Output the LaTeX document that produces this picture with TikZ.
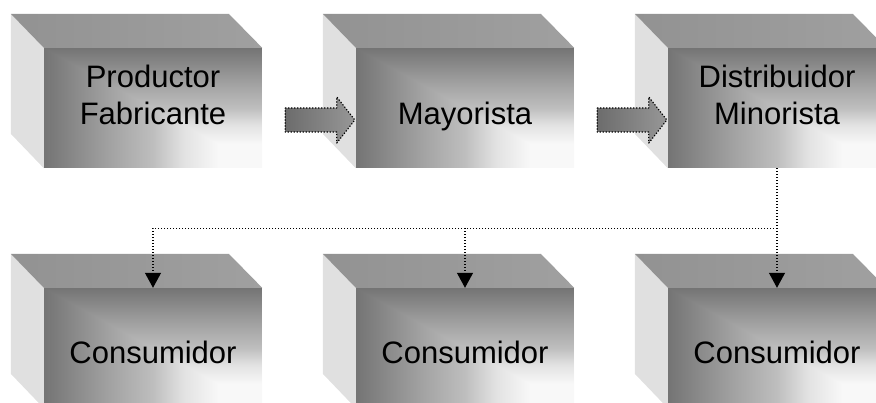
\documentclass[tikz,border=0pt]{standalone}
\usepackage{fontspec}
\setmainfont{Liberation Sans}
\usetikzlibrary{arrows.meta,calc}

\definecolor{grisA}{HTML}{747474}
\definecolor{grisB}{HTML}{A2A2A2}
\definecolor{grisC}{HTML}{BEBEBE}
\definecolor{grisD}{HTML}{E2E2E2}
\definecolor{grisE}{HTML}{F8F8F8}
\definecolor{techoL}{HTML}{929292}
\definecolor{techoR}{HTML}{A0A0A0}
\definecolor{lado}{HTML}{E0E0E0}
\definecolor{flechaL}{HTML}{6C6C6C}
\definecolor{flechaM}{HTML}{D2D2D2}
\definecolor{flechaR}{HTML}{979797}

\pgfdeclarehorizontalshading{carah}{100bp}{color(0bp)=(grisA); color(25bp)=(grisA); color(40bp)=(grisB); color(50bp)=(grisC); color(57bp)=(grisD); color(65bp)=(grisE); color(100bp)=(grisE)}
\pgfdeclareverticalshading{carav}{100bp}{color(0bp)=(grisE); color(35bp)=(grisE); color(43bp)=(grisD); color(50bp)=(grisC); color(60bp)=(grisB); color(75bp)=(grisA); color(100bp)=(grisA)}

\begin{document}
\begin{tikzpicture}[x=1pt,y=-1pt,
  cara/.style={minimum width=218pt,minimum height=120pt,inner sep=0pt,
    path picture={
      \shade[shading=carah] (path picture bounding box.north west) rectangle (path picture bounding box.south east);
      \shade[shading=carav] (path picture bounding box.north west) -- (path picture bounding box.north east) -- (path picture bounding box.south east) -- cycle;}},
  ladoizq/.style={fill=lado},
  techo/.style={left color=techoL,right color=techoR},
  texto/.style={font=\fontsize{31}{37}\selectfont,align=center,anchor=base},
  flecha/.style={left color=flechaL,middle color=flechaM,right color=flechaR,draw=black,line width=1.2pt,dash pattern=on 1.2pt off 1.8pt,line join=round},
  conector/.style={line width=1.2pt,dash pattern=on 1.2pt off 1.8pt},
  punta/.style={-{Triangle[length=15pt,width=16pt]}}]

\useasboundingbox (0,0) rectangle (876,403);
\clip (0,0) rectangle (876,403);

%CAJAS
\foreach \n/\x/\y in {prod/153/108,may/465/108,dist/777/108,c1/153/348,c2/465/348,c3/777/348}{
  \node[cara] (\n) at (\x,\y) {};
  \fill[ladoizq] (\n.north west) -- ++(-33,-34) -- ++(0,120) -- (\n.south west) -- cycle;
  \shade[techo] (\n.north west) -- ++(-33,-34) -- ++(218,0) -- (\n.north east) -- cycle;
}

%TEXTOS
\node[texto] (prodtxt) at ([yshift=-17pt]prod.center) {Productor\\Fabricante};
\node[texto] (maytxt) at ([yshift=-17pt]may.center) {Mayorista};
\node[texto] (disttxt) at ([yshift=-17pt]dist.center) {Distribuidor\\Minorista};
\foreach \n in {c1,c2,c3}
  \node[texto] (\n txt) at ([yshift=-16pt]\n.center) {Consumidor};

%FLECHAS
\foreach \a/\b in {prod/may,may/dist}
  \path[flecha] ($(\a.east)+(23,0)$) -- ($(\b.west)+(-19,0)$) -- ++(0,-11) -- ($(\b.west)+(-1,12)$)
    -- ($(\b.west)+(-19,35)$) -- ++(0,-11) -- ($(\a.east)+(23,24)$) -- cycle;

%CONECTORES
\draw[conector] (dist.south) -- ++(0,60) coordinate (rama);
\draw[conector,punta] (rama) -- (c3.north);
\draw[conector,punta] (rama) -| (c1.north);
\draw[conector,punta] (rama -| c2.north) -- (c2.north);
\end{tikzpicture}
\end{document}
